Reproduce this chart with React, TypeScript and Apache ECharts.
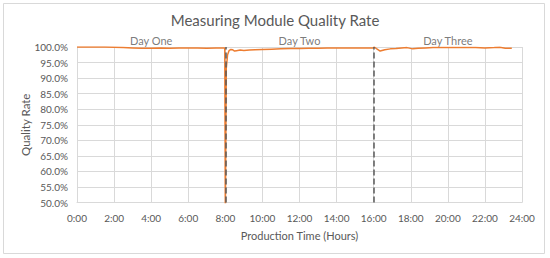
import React, { useEffect, useRef } from "react";
import * as echarts from "echarts";

const title = "Measuring Module Quality Rate";
const xAxisName = "Production Time (Hours)";
const yAxisName = "Quality Rate";
const dayNames = ["Day One", "Day Two", "Day Three"];
const dayCenters = [4, 12, 20];
const shiftBoundaries = [8, 16];

const hours = [
  0, 0.5, 1, 1.5, 2, 2.5, 3, 3.5, 4, 4.5, 5, 5.5, 6, 6.5, 7, 7.5, 7.97,
  8.0, 8.05, 8.12, 8.2, 8.3, 8.4, 8.5, 8.6, 8.8, 9.0, 9.3, 9.6, 10, 10.5, 11, 11.5, 12,
  12.5, 13, 13.5, 14, 14.5, 15, 15.5, 15.97,
  16.03, 16.15, 16.35, 16.6, 16.9, 17.2, 17.5, 17.8, 18.1, 18.4, 18.8, 19.2, 19.6, 20,
  20.5, 21, 21.5, 22, 22.5, 22.8, 23.1, 23.45,
];
const qualityRate = [
  1.0, 1.0, 1.0, 1.0, 0.999, 0.998, 0.997, 0.996, 0.996, 0.997, 0.996, 0.997, 0.997, 0.997, 0.996, 0.997, 0.997,
  0.45, 0.93, 0.975, 0.988, 0.992, 0.991, 0.987, 0.988, 0.99, 0.989, 0.99, 0.991, 0.992, 0.993, 0.994, 0.995, 0.995,
  0.996, 0.996, 0.997, 0.997, 0.997, 0.997, 0.997, 0.997,
  1.0, 0.995, 0.987, 0.991, 0.994, 0.995, 0.997, 0.998, 0.994, 0.996, 0.997, 0.998, 0.998, 0.998,
  0.998, 0.998, 0.998, 0.997, 0.998, 0.999, 0.996, 0.996,
];

const FONT = "Lato";
const GREY = "#595959";

export default function App() {
  const ref = useRef<HTMLDivElement>(null);
  useEffect(() => {
    const chart = echarts.init(ref.current!, null, { renderer: "svg" });
    chart.setOption({
      animation: false,
      backgroundColor: "#ffffff",
      textStyle: { fontFamily: FONT },
      title: {
        text: title,
        left: "center",
        top: 11,
        padding: 0,
        textStyle: { fontFamily: FONT, fontSize: 15, lineHeight: 17, fontWeight: "normal", color: GREY },
      },
      graphic: [
        {
          type: "rect",
          shape: { x: 3.5, y: 3.5, width: 541, height: 250 },
          style: { fill: "none", stroke: "#d9d9d9", lineWidth: 1 },
          silent: true,
        },
      ],
      grid: { left: 77, right: 28, top: 47, bottom: 55.5 },
      xAxis: {
        type: "value",
        min: 0,
        max: 24,
        interval: 2,
        name: xAxisName,
        nameLocation: "middle",
        nameGap: 27,
        nameMoveOverlap: false,
        nameTextStyle: { fontFamily: FONT, fontSize: 11, color: GREY },
        axisLabel: {
          fontFamily: FONT,
          fontSize: 10,
          color: GREY,
          margin: 10,
          formatter: (v: number) => `${v}:00`,
        },
        axisLine: { show: true, lineStyle: { color: "#d9d9d9" } },
        axisTick: { show: false },
        splitLine: { show: true, lineStyle: { color: "#d9d9d9", width: 1 } },
      },
      yAxis: {
        type: "value",
        min: 0.5,
        max: 1.0,
        interval: 0.05,
        name: yAxisName,
        nameLocation: "middle",
        nameGap: 46,
        nameMoveOverlap: false,
        nameTextStyle: { fontFamily: FONT, fontSize: 11.5, color: GREY },
        axisLabel: {
          fontFamily: FONT,
          fontSize: 10,
          color: GREY,
          margin: 9,
          formatter: (v: number) => `${(v * 100).toFixed(1)}%`,
        },
        axisLine: { show: false },
        axisTick: { show: false },
        splitLine: { show: true, lineStyle: { color: "#d9d9d9", width: 1 } },
      },
      series: [
        {
          type: "line",
          data: hours.map((h, i) => [h, qualityRate[i]]),
          showSymbol: false,
          symbol: "none",
          lineStyle: { color: "#ED7D31", width: 1.5 },
          z: 3,
          markLine: {
            silent: true,
            symbol: "none",
            label: { show: false },
            lineStyle: { color: GREY, type: [6, 3], width: 1.5 },
            data: shiftBoundaries.map((b) => ({ xAxis: b })),
            z: 4,
          },
        },
        {
          type: "scatter",
          symbolSize: 0,
          silent: true,
          data: dayCenters.map((c) => [c, 1.0]),
          label: {
            show: true,
            position: "top",
            distance: 1,
            fontFamily: FONT,
            fontSize: 11,
            lineHeight: 12,
            color: GREY,
            formatter: (p: any) => dayNames[p.dataIndex],
          },
        },
      ],
    });
    return () => chart.dispose();
  }, []);
  return (
    <div
      ref={ref}
      style={{ position: "fixed", left: 0, top: 0, width: 550, height: 258 }}
    />
  );
}
